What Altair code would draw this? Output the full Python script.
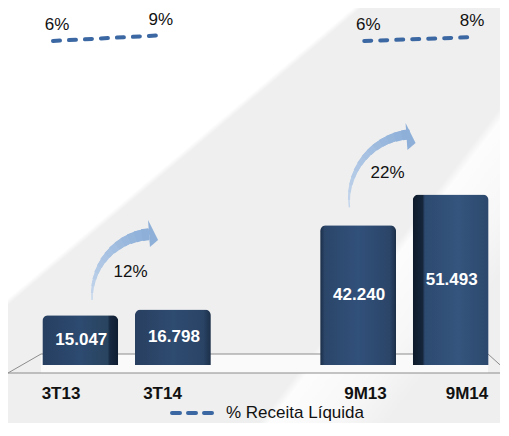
import altair as alt
import pandas as pd

# ---------------- data ----------------
CATEGORIES = ["3T13", "3T14", "9M13", "9M14"]
VALUES = [15.047, 16.798, 42.240, 51.493]
VALUE_LABELS = ["15.047", "16.798", "42.240", "51.493"]
PCT = [6, 9, 6, 8]
GROUPS = ["3T", "3T", "9M", "9M"]
LEGEND_LABEL = "% Receita Líquida"

GROWTH = [round((VALUES[1] / VALUES[0] - 1) * 100), round((VALUES[3] / VALUES[2] - 1) * 100)]

GAP = " "
DOMAIN = CATEGORIES[:2] + [GAP] + CATEGORIES[2:]

df = pd.DataFrame({
    "cat": CATEGORIES,
    "value": VALUES,
    "label": VALUE_LABELS,
    "pct": PCT,
    "grp": GROUPS,
    "pct_label": [f"{p}%" for p in PCT],
})
one = pd.DataFrame({"k": [0]})

FONT = "Liberation Sans"
W, H = 463, 365
LINE_COLOR = "#3b67a2"

bar_x = alt.Scale(domain=DOMAIN, paddingInner=0.18, paddingOuter=0.09)
bar_y = alt.Scale(domain=[-2.42, 107.85], nice=False, zero=False)
lbl_x = alt.Scale(type="point", domain=DOMAIN, range=[27, 433], padding=0)
line_x = alt.Scale(type="point", domain=DOMAIN, range=[19, 434], padding=0)
pct_y = alt.Scale(domain=[-178.5, 24.3], nice=False, zero=False)

layers = []

# ---------------- background ----------------
bg = alt.Gradient(
    gradient="linear", x1=0, y1=0, x2=1, y2=1,
    stops=[alt.GradientStop(color="#ffffff", offset=0),
           alt.GradientStop(color="#ffffff", offset=0.35),
           alt.GradientStop(color="#efefef", offset=0.358),
           alt.GradientStop(color="#efefef", offset=1)])
layers.append(alt.Chart(one).mark_rect(color=bg).encode(
    x=alt.value(-26), x2=alt.value(467), y=alt.value(0), y2=alt.value(415)))
bg2 = alt.Gradient(
    gradient="linear", x1=0, y1=0, x2=1, y2=0.644,
    stops=[alt.GradientStop(color="rgba(255,255,255,0)", offset=0),
           alt.GradientStop(color="rgba(255,255,255,0)", offset=0.815),
           alt.GradientStop(color="rgba(255,255,255,0.85)", offset=0.83),
           alt.GradientStop(color="rgba(255,255,255,0.5)", offset=0.93),
           alt.GradientStop(color="rgba(255,255,255,0)", offset=1)])
layers.append(alt.Chart(one).mark_rect(color=bg2).encode(
    x=alt.value(-26), x2=alt.value(467), y=alt.value(0), y2=alt.value(415)))

# ---------------- floor ----------------
layers.append(alt.Chart(one).mark_rect(color="#fafafa").encode(
    x=alt.value(7), x2=alt.value(454), y=alt.value(346), y2=alt.value(365)))
FLOOR = "#8c8c8c"
layers.append(alt.Chart(one).mark_rule(color=FLOOR, strokeWidth=1).encode(
    x=alt.value(7), x2=alt.value(454), y=alt.value(346)))
layers.append(alt.Chart(one).mark_rule(color=FLOOR, strokeWidth=1.2).encode(
    x=alt.value(-26), x2=alt.value(470), y=alt.value(365)))
layers.append(alt.Chart(one).mark_rule(color=FLOOR, strokeWidth=1).encode(
    x=alt.value(7), y=alt.value(346), x2=alt.value(-26), y2=alt.value(365)))
layers.append(alt.Chart(one).mark_rule(color=FLOOR, strokeWidth=1).encode(
    x=alt.value(454), y=alt.value(346), x2=alt.value(475), y2=alt.value(365)))

# ---------------- bars ----------------
def grad(stops):
    return alt.Gradient(gradient="linear", x1=0, y1=0, x2=1, y2=0,
                        stops=[alt.GradientStop(color=c, offset=o) for c, o in stops])

GRADS = {
    "3T13": [("#263f61", 0), ("#2d4a70", 0.5), ("#29445f", 0.86), ("#162840", 0.89), ("#0f1d30", 1)],
    "3T14": [("#283f60", 0), ("#2e4b70", 0.5), ("#2a4466", 0.9), ("#1b2f48", 1)],
    "9M13": [("#1a2d46", 0), ("#2b4669", 0.06), ("#31507a", 0.5), ("#2b4568", 0.92), ("#1c2f48", 1)],
    "9M14": [("#0e1a2a", 0), ("#15263b", 0.13), ("#2d4a70", 0.16), ("#35557e", 0.6), ("#2c486c", 1)],
}
for c in CATEGORIES:
    layers.append(
        alt.Chart(df).transform_filter(alt.datum.cat == c).mark_bar(
            color=grad(GRADS[c]), cornerRadiusTopLeft=6, cornerRadiusTopRight=6
        ).encode(
            x=alt.X("cat:N", scale=bar_x, axis=None),
            y=alt.Y("value:Q", scale=bar_y, axis=None),
        )
    )

layers.append(
    alt.Chart(df).transform_calculate(half="datum.value / 2").mark_text(
        color="white", font=FONT, fontSize=17, fontWeight="bold", dx=1
    ).encode(
        x=alt.X("cat:N", scale=bar_x, axis=None),
        y=alt.Y("half:Q", scale=bar_y, axis=None),
        text="label:N",
    )
)

# ---------------- growth arrows ----------------
HEAD = "M -0.07 -1 L 0.67 0.48 L 0.07 1 Z"
LIGHT = (0xc4, 0xd6, 0xec)
DARK = (0x8d, 0xaf, 0xd8)


def mix(f):
    return "#%02x%02x%02x" % tuple(round(a + (b - a) * f) for a, b in zip(LIGHT, DARK))


def arrow(cx, cy, r, t0, t1, hmin, hmax, hx, hy, n=14):
    out = []
    for k in range(n):
        f = k / (n - 1)
        ts = t0 + (t1 - t0) * k / n
        h = hmin + (hmax - hmin) * f
        out.append(alt.Chart(one).mark_arc(color=mix(f)).encode(
            x=alt.value(cx), y=alt.value(cy),
            theta=alt.value(ts), theta2=alt.value(t1),
            radius=alt.value(r + h / 2), radius2=alt.value(r - h / 2)))
    out.append(alt.Chart(one).mark_point(
        shape=HEAD, filled=True, size=729, color=mix(1.0), opacity=1, strokeWidth=0
    ).encode(x=alt.value(hx), y=alt.value(hy)))
    return out


layers += arrow(120, 288, 62, 4.65, 6.2, 1.5, 12, 115, 225.5)
layers += arrow(381, 192, 66, 4.6, 6.2, 1.5, 10, 372.5, 128.5)

for g, (gx, gy) in zip(GROWTH, [(96.5, 264), (353.5, 165)]):
    layers.append(alt.Chart(one).mark_text(
        font=FONT, fontSize=17, color="#111111"
    ).encode(x=alt.value(gx), y=alt.value(gy), text=alt.value(f"{g}%")))

# ---------------- % receita líquida lines ----------------
layers.append(
    alt.Chart(df).mark_line(
        color=LINE_COLOR, strokeWidth=4, strokeDash=[7, 9], strokeCap="round"
    ).encode(
        x=alt.X("cat:N", scale=line_x, axis=None),
        y=alt.Y("pct:Q", scale=pct_y, axis=None),
        detail="grp:N",
    )
)
layers.append(
    alt.Chart(df).mark_text(font=FONT, fontSize=17, color="#111111", dx=4, dy=-16).encode(
        x=alt.X("cat:N", scale=line_x, axis=None),
        y=alt.Y("pct:Q", scale=pct_y, axis=None),
        text="pct_label:N",
    )
)

# ---------------- category labels ----------------
layers.append(
    alt.Chart(df).mark_text(font=FONT, fontSize=17, fontWeight="bold", color="#111111").encode(
        x=alt.X("cat:N", scale=lbl_x, axis=None),
        y=alt.value(386),
        text="cat:N",
    )
)

# ---------------- legend ----------------
layers.append(alt.Chart(one).mark_rule(
    color=LINE_COLOR, strokeWidth=4, strokeDash=[8, 8], strokeCap="round"
).encode(x=alt.value(138), x2=alt.value(181), y=alt.value(405)))
layers.append(alt.Chart(one).mark_text(
    font=FONT, fontSize=17, color="#111111", align="left", baseline="middle"
).encode(x=alt.value(192), y=alt.value(405), text=alt.value(LEGEND_LABEL)))

chart = alt.layer(*layers).resolve_scale(x="independent", y="independent").properties(
    width=W, height=H,
    autosize=alt.AutoSizeParams(type="none"),
    padding={"left": 26, "right": 3, "top": 0, "bottom": 50},
    background="#efefef",
).configure_view(stroke=None)

chart.save("out.html", embed_options={"renderer": "svg", "actions": False})
